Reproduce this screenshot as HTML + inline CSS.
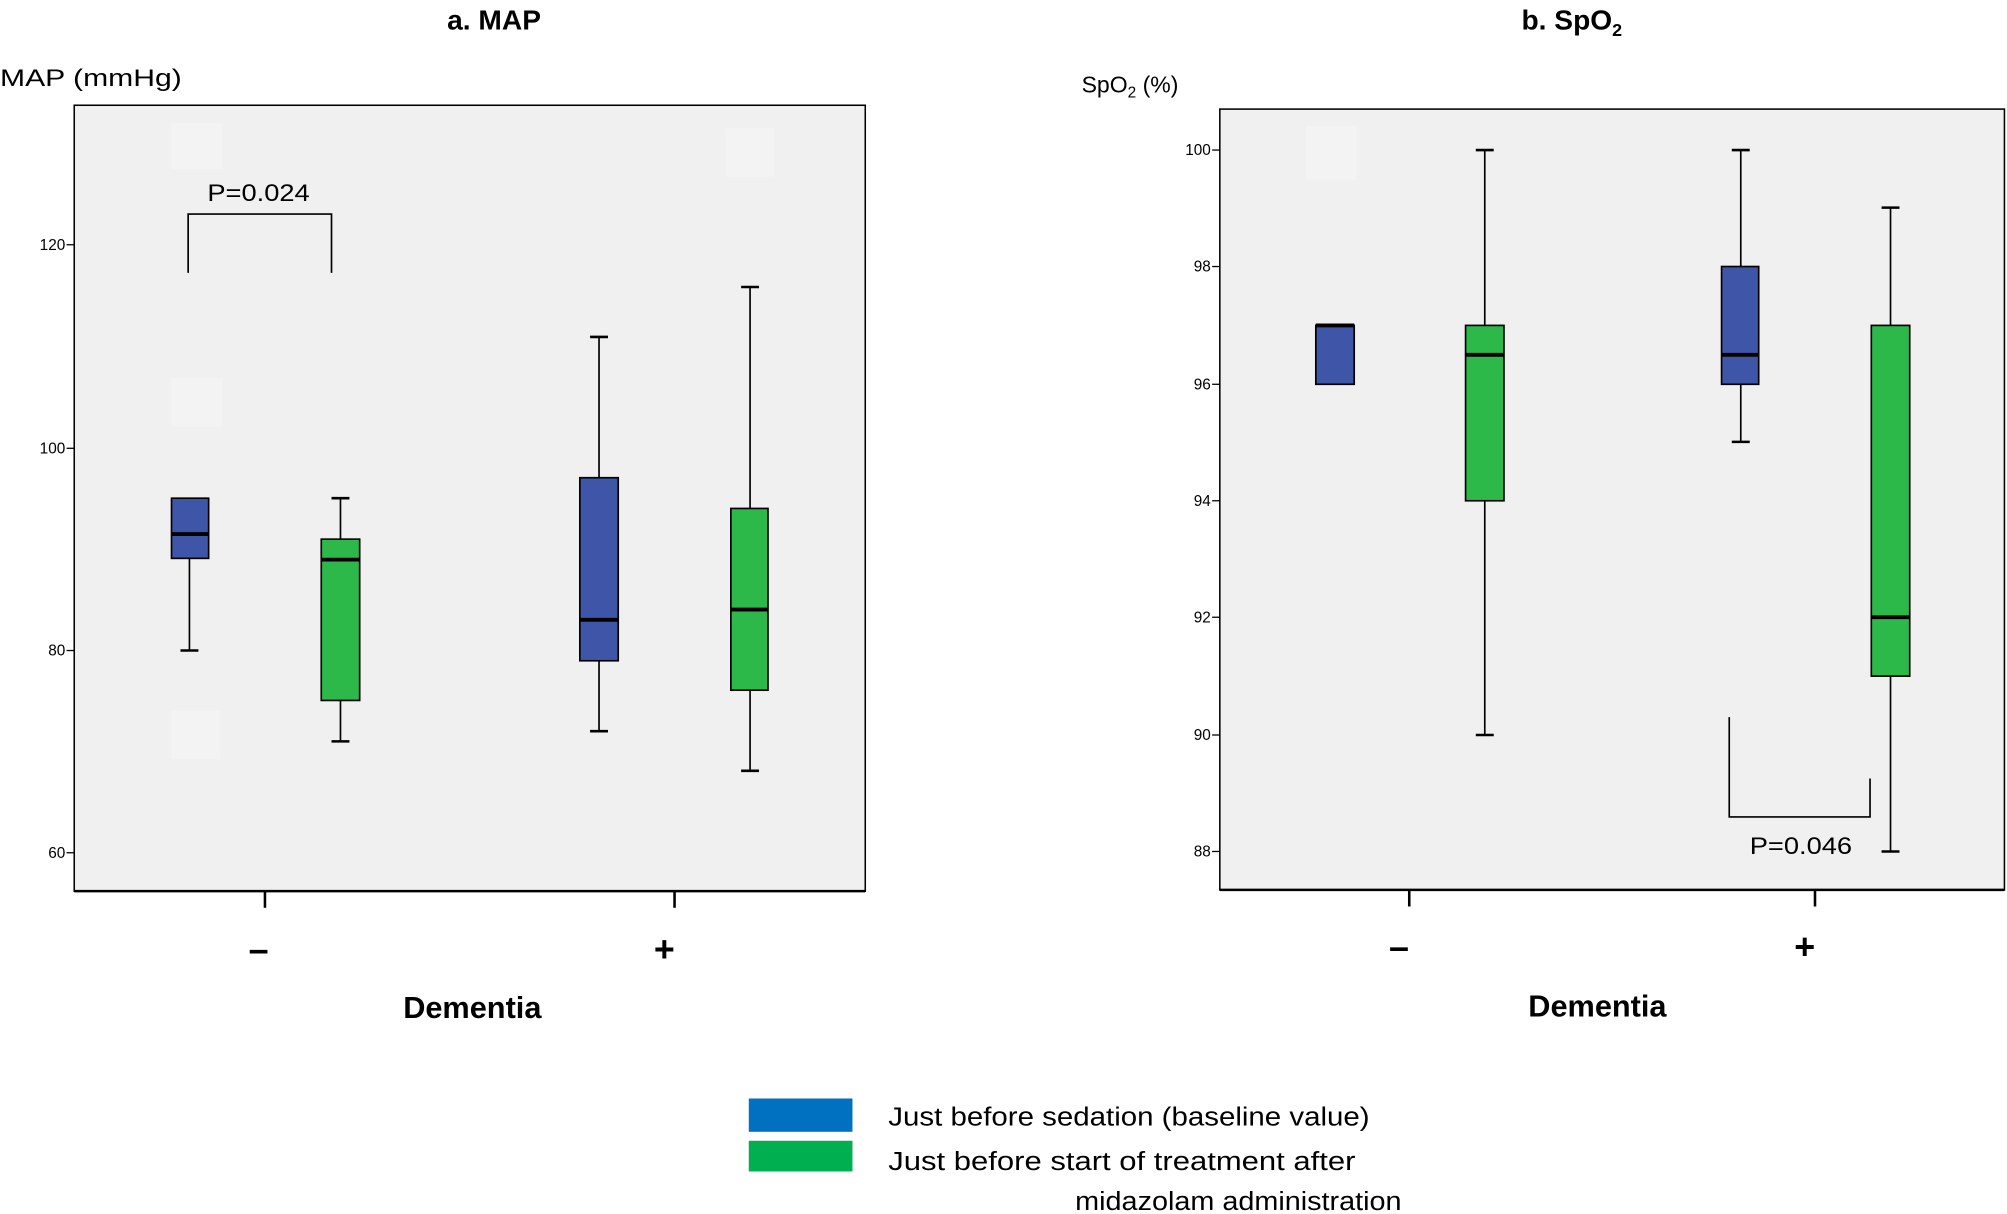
<!DOCTYPE html>
<html><head><meta charset="utf-8"><style>
html,body{margin:0;padding:0;background:#fff}
svg{display:block}
text{font-family:"Liberation Sans","Noto Sans CJK JP",sans-serif;fill:#000}
</style></head><body>
<svg width="2007" height="1214" viewBox="0 0 1568 948" xmlns="http://www.w3.org/2000/svg">
<rect width="1568" height="948" fill="#fff"/>
<text x="386" y="23" font-size="22" font-weight="bold" text-anchor="middle">a. MAP</text>
<text x="1228" y="23" font-size="22" font-weight="bold" text-anchor="middle">b. SpO<tspan font-size="14" dy="5">2</tspan></text>
<text x="0" y="67" font-size="19" textLength="142" lengthAdjust="spacingAndGlyphs">MAP (mmHg)</text>
<text x="845" y="72" font-size="18">SpO<tspan font-size="12" dy="4">2</tspan><tspan dy="-4"> (%)</tspan></text>

<rect x="58" y="82" width="618" height="614" fill="#f0f0f0" stroke="#000" stroke-width="1.2"/>
<g fill="#f3f3f3"><rect x="134" y="96" width="40" height="36"/><rect x="134" y="295" width="40" height="38"/><rect x="134" y="555" width="38" height="38"/><rect x="567" y="100" width="38" height="38"/></g>
<line x1="58" y1="696" x2="676" y2="696" stroke="#000" stroke-width="2"/>
<g stroke="#000" stroke-width="1"><line x1="52" y1="191" x2="58" y2="191"/><line x1="52" y1="350" x2="58" y2="350"/><line x1="52" y1="508" x2="58" y2="508"/><line x1="52" y1="666" x2="58" y2="666"/></g>
<g font-size="12" text-anchor="end"><text x="51" y="195">120</text><text x="51" y="354">100</text><text x="51" y="512">80</text><text x="51" y="670">60</text></g>
<g stroke="#000" stroke-width="2"><line x1="207" y1="696" x2="207" y2="709"/><line x1="527" y1="696" x2="527" y2="709"/></g>
<text x="202" y="751" font-size="28" font-weight="bold" text-anchor="middle">–</text>
<text x="519" y="751" font-size="28" font-weight="bold" text-anchor="middle">+</text>
<text x="369" y="795" font-size="24" font-weight="bold" text-anchor="middle">Dementia</text>

<g stroke="#000" stroke-width="1.3">
<line x1="148" y1="436" x2="148" y2="508"/><line x1="141" y1="508" x2="155" y2="508" stroke-width="2"/>
<rect x="134" y="389" width="29" height="47" fill="#3f56a8"/>
<line x1="134" y1="417" x2="163" y2="417" stroke-width="3"/>
<line x1="266" y1="389" x2="266" y2="421"/><line x1="266" y1="547" x2="266" y2="579"/>
<line x1="259" y1="389" x2="273" y2="389" stroke-width="2"/><line x1="259" y1="579" x2="273" y2="579" stroke-width="2"/>
<rect x="251" y="421" width="30" height="126" fill="#2db84a"/>
<line x1="251" y1="437" x2="281" y2="437" stroke-width="3"/>
<line x1="468" y1="263" x2="468" y2="373"/><line x1="468" y1="516" x2="468" y2="571"/>
<line x1="461" y1="263" x2="475" y2="263" stroke-width="2"/><line x1="461" y1="571" x2="475" y2="571" stroke-width="2"/>
<rect x="453" y="373" width="30" height="143" fill="#3f56a8"/>
<line x1="453" y1="484" x2="483" y2="484" stroke-width="3"/>
<line x1="586" y1="224" x2="586" y2="397"/><line x1="586" y1="539" x2="586" y2="602"/>
<line x1="579" y1="224" x2="593" y2="224" stroke-width="2"/><line x1="579" y1="602" x2="593" y2="602" stroke-width="2"/>
<rect x="571" y="397" width="29" height="142" fill="#2db84a"/>
<line x1="571" y1="476" x2="600" y2="476" stroke-width="3"/>
<polyline points="147,213 147,167 259,167 259,213" fill="none"/>
</g>
<text x="162" y="157" font-size="19" textLength="80" lengthAdjust="spacingAndGlyphs">P=0.024</text>

<rect x="953" y="85" width="613" height="610" fill="#f0f0f0" stroke="#000" stroke-width="1.2"/>
<rect x="1020" y="98" width="40" height="42" fill="#f3f3f3"/>
<line x1="953" y1="695" x2="1566" y2="695" stroke="#000" stroke-width="2"/>
<g stroke="#000" stroke-width="1">
<line x1="947" y1="117" x2="953" y2="117"/><line x1="947" y1="208" x2="953" y2="208"/><line x1="947" y1="300" x2="953" y2="300"/><line x1="947" y1="391" x2="953" y2="391"/><line x1="947" y1="482" x2="953" y2="482"/><line x1="947" y1="574" x2="953" y2="574"/><line x1="947" y1="665" x2="953" y2="665"/></g>
<g font-size="12" text-anchor="end"><text x="946" y="121">100</text><text x="946" y="212">98</text><text x="946" y="304">96</text><text x="946" y="395">94</text><text x="946" y="486">92</text><text x="946" y="578">90</text><text x="946" y="669">88</text></g>
<g stroke="#000" stroke-width="2"><line x1="1101" y1="695" x2="1101" y2="708"/><line x1="1418" y1="695" x2="1418" y2="708"/></g>
<text x="1093" y="749" font-size="28" font-weight="bold" text-anchor="middle">–</text>
<text x="1410" y="749" font-size="28" font-weight="bold" text-anchor="middle">+</text>
<text x="1248" y="794" font-size="24" font-weight="bold" text-anchor="middle">Dementia</text>

<g stroke="#000" stroke-width="1.3">
<rect x="1028" y="254" width="30" height="46" fill="#3f56a8"/>
<line x1="1028" y1="254" x2="1058" y2="254" stroke-width="3"/>
<line x1="1160" y1="117" x2="1160" y2="254"/><line x1="1160" y1="391" x2="1160" y2="574"/>
<line x1="1153" y1="117" x2="1167" y2="117" stroke-width="2"/><line x1="1153" y1="574" x2="1167" y2="574" stroke-width="2"/>
<rect x="1145" y="254" width="30" height="137" fill="#2db84a"/>
<line x1="1145" y1="277" x2="1175" y2="277" stroke-width="3"/>
<line x1="1360" y1="117" x2="1360" y2="208"/><line x1="1360" y1="300" x2="1360" y2="345"/>
<line x1="1353" y1="117" x2="1367" y2="117" stroke-width="2"/><line x1="1353" y1="345" x2="1367" y2="345" stroke-width="2"/>
<rect x="1345" y="208" width="29" height="92" fill="#3f56a8"/>
<line x1="1345" y1="277" x2="1374" y2="277" stroke-width="3"/>
<line x1="1477" y1="162" x2="1477" y2="254"/><line x1="1477" y1="528" x2="1477" y2="665"/>
<line x1="1470" y1="162" x2="1484" y2="162" stroke-width="2"/><line x1="1470" y1="665" x2="1484" y2="665" stroke-width="2"/>
<rect x="1462" y="254" width="30" height="274" fill="#2db84a"/>
<line x1="1462" y1="482" x2="1492" y2="482" stroke-width="3"/>
<polyline points="1351,560 1351,638 1461,638 1461,608" fill="none"/>
</g>
<text x="1367" y="667" font-size="19" textLength="80" lengthAdjust="spacingAndGlyphs">P=0.046</text>

<rect x="585" y="858" width="81" height="26" fill="#0070c0"/>
<rect x="585" y="891" width="81" height="24" fill="#00b050"/>
<text x="694" y="879" font-size="20" textLength="376" lengthAdjust="spacingAndGlyphs">Just before sedation (baseline value)</text>
<text x="694" y="914" font-size="20" textLength="365" lengthAdjust="spacingAndGlyphs">Just before start of treatment after</text>
<text x="840" y="945" font-size="20" textLength="255" lengthAdjust="spacingAndGlyphs">midazolam administration</text>
</svg>
</body></html>
